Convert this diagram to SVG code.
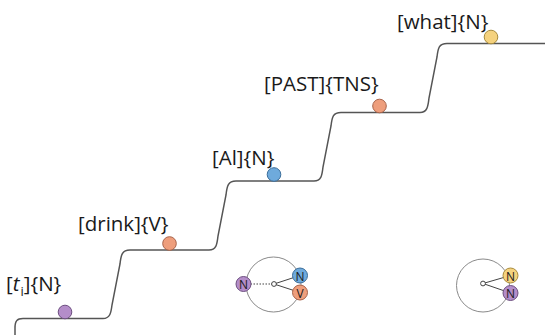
<svg xmlns="http://www.w3.org/2000/svg" width="545" height="335" viewBox="0 0 545 335">
<style>
.lbl{font-family:"Open Sans","Liberation Sans",sans-serif;font-size:20.5px;fill:#1a1a1a}
.nl{font-family:"Open Sans","Liberation Sans",sans-serif;font-size:12px;fill:#1a1a1a;text-anchor:middle;dominant-baseline:central}
.stair{fill:none;stroke:#555;stroke-width:1.5}
.ring{fill:none;stroke:#8a8a8a;stroke-width:1}
.edge{stroke:#444;stroke-width:1}
.dot{stroke:#444;stroke-width:1.2;stroke-dasharray:1.5 1.5}
.hub{fill:#fff;stroke:#444;stroke-width:1}
.pur{fill:#b48dc9;stroke:#6d4f80;stroke-width:1}
.ora{fill:#ee9e7c;stroke:#a8634a;stroke-width:1}
.blu{fill:#6eaadc;stroke:#3a6d9a;stroke-width:1}
.yel{fill:#f5d27e;stroke:#a88b3c;stroke-width:1}
</style>
<g id="connectors">
<path class="stair" d="M15,335 L15,328 C15,321 17,318.5 23,318.5 L103,318.5 C110,318.5 111,313 112,305 L120,264 C121,255 122,250 130,250 L209,250 C216,250 217,245 218,236 L226,195 C227,186 228,181 236,181 L314,181 C321,181 322,176 323,167 L331,126 C332,117 333,112.5 341,112.5 L420,112.5 C427,112.5 428,107 429,98 L437,57 C438,48 439,43.5 447,43.5 L545,43.5"/>
</g>
<g id="n-ti">
<text class="lbl" x="6" y="290.5">[<tspan font-style="italic">t</tspan><tspan font-size="13" dy="5" dx="1">i</tspan><tspan dy="-5">]{N}</tspan></text>
<circle class="pur" cx="65" cy="312" r="6.8"/>
</g>
<g id="n-drink">
<text class="lbl" x="78" y="230.5">[drink]{V}</text>
<circle class="ora" cx="169.5" cy="243.5" r="6.8"/>
</g>
<g id="n-al">
<text class="lbl" x="212" y="164.5">[Al]{N}</text>
<circle class="blu" cx="274" cy="174.5" r="6.8"/>
</g>
<g id="n-past">
<text class="lbl" x="264" y="90.5">[PAST]{TNS}</text>
<circle class="ora" cx="379.5" cy="106" r="6.8"/>
</g>
<g id="n-what">
<text class="lbl" x="397" y="28.5">[what]{N}</text>
<circle class="yel" cx="491" cy="37" r="6.8"/>
</g>
<g id="legend-1">
<circle class="ring" cx="273.5" cy="284.5" r="27.5"/>
<line class="dot" x1="250.5" y1="284" x2="272" y2="284"/>
<line class="edge" x1="274" y1="284" x2="300" y2="275.5"/>
<line class="edge" x1="274" y1="284" x2="300" y2="292.5"/>
<circle class="hub" cx="274" cy="284" r="2.4"/>
<circle class="pur" cx="243.5" cy="284" r="7.5"/>
<text class="nl" x="243.5" y="284.5">N</text>
<circle class="ora" cx="300" cy="292.5" r="7.5"/>
<text class="nl" x="300" y="293">V</text>
<circle class="blu" cx="300" cy="275.5" r="7.5"/>
<text class="nl" x="300" y="276">N</text>
</g>
<g id="legend-2">
<circle class="ring" cx="483" cy="285.5" r="26.5"/>
<line class="edge" x1="483" y1="283.5" x2="510.5" y2="275.5"/>
<line class="edge" x1="483" y1="283.5" x2="510.5" y2="293"/>
<circle class="hub" cx="483" cy="283.5" r="2.4"/>
<circle class="pur" cx="510.5" cy="293" r="7.5"/>
<text class="nl" x="510.5" y="293.5">N</text>
<circle class="yel" cx="510.5" cy="275.5" r="7.5"/>
<text class="nl" x="510.5" y="276">N</text>
</g>
</svg>
